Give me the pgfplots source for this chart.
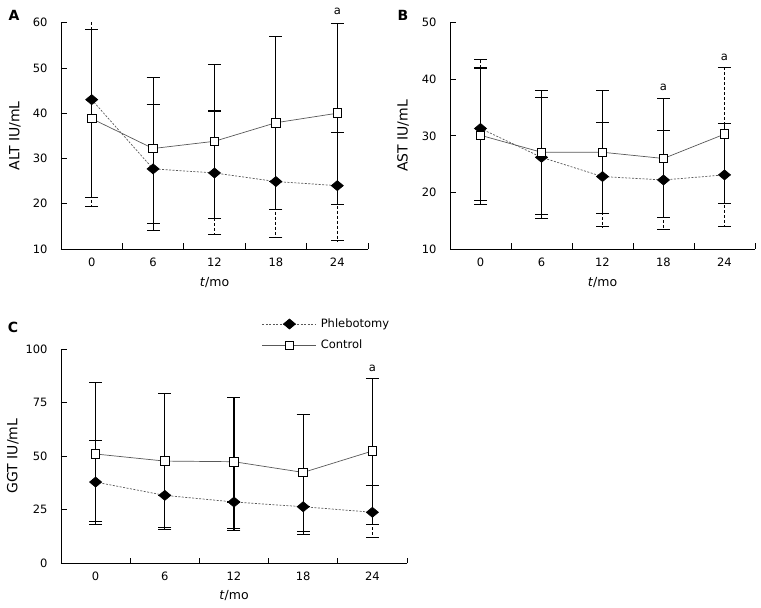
\documentclass[border=0pt]{standalone}
\usepackage{fontspec}
\setmainfont{DejaVu Sans}
\usepackage{pgfplots}
\pgfplotsset{compat=1.18}
\newcommand{\fs}{\fontsize{11.5pt}{13.5pt}\selectfont}
\newcommand{\fl}{\fontsize{14pt}{16pt}\selectfont}
\newcommand{\fx}{\fontsize{12.5pt}{15pt}\selectfont}
\pgfplotsset{
  panel/.style={
    scale only axis, anchor=south west,
    xmin=0, xmax=5,
    axis x line*=bottom, axis y line*=left,
    axis line style={black, line width=0.9pt},
    tick align=inside,
    xtick={0.5,1.5,2.5,3.5,4.5}, xticklabels={0,6,12,18,24},
    major x tick style={draw=none},
    minor xtick={1,2,3,4,5},
    minor tick length=5.7pt, major tick length=5.7pt,
    every tick/.style={black, line width=0.9pt},
    /pgf/number format/assume math mode=true,
    tick label style={font=\fs},
    xticklabel style={yshift=-5pt},
    yticklabel style={xshift=-10pt},
    ylabel style={font=\fl},
    xlabel style={font=\fx, at={(axis description cs:0.5,-0.15)}, anchor=center},
    xlabel={\textit{t}/mo},
    clip mode=individual,
  },
  phleb/.style={
    color=black!65, line width=0.7pt, dash pattern=on 2pt off 1.5pt,
    mark=diamond*, mark options={fill=black, draw=black, solid, mark size=5pt, xscale=1.6},
    error bars/.cd, y dir=both, y explicit,
    error bar style={black, line width=1.1pt, dash pattern=on 3pt off 2pt},
    error mark options={rotate=90, solid, black, line width=1.1pt, mark size=6.5pt},
  },
  control/.style={
    color=black!65, line width=0.7pt, solid,
    mark=square*, mark options={fill=white, draw=black, solid, line width=0.9pt, mark size=4.3pt},
    error bars/.cd, y dir=both, y explicit,
    error bar style={black, line width=1.1pt, solid},
    error mark options={rotate=90, solid, black, line width=1.1pt, mark size=6.5pt},
  },
}
\begin{document}
\begin{tikzpicture}
\useasboundingbox (0,0) rectangle (761pt,608pt);
\node[font=\fontsize{14pt}{16pt}\selectfont\bfseries] at (14pt,593pt) {A};
\node[font=\fontsize{14pt}{16pt}\selectfont\bfseries] at (403pt,593pt) {B};
\node[font=\fontsize{14pt}{16pt}\selectfont\bfseries] at (13pt,280.5pt) {C};
% Panel A
\begin{axis}[panel, at={(61pt,359pt)}, width=307pt, height=226.3pt,
  ymin=10, ymax=60, ytick={10,20,30,40,50,60},
  ylabel={ALT IU/mL},
  ylabel style={at={(axis description cs:-0.150,0.5)}, anchor=center}]
\addplot[phleb] coordinates {
  (0.5,43.0) += (0,21.6) -= (0,23.6)
  (1.5,27.7) += (0,14.3) -= (0,12.0)
  (2.5,26.8) += (0,13.7) -= (0,13.5)
  (3.5,24.9) += (0,0) -= (0,12.4)
  (4.5,24.0) += (0,11.8) -= (0,12.2)
};
\addplot[control] coordinates {
  (0.5,38.8) += (0,19.7) -= (0,17.4)
  (1.5,32.2) += (0,15.7) -= (0,18.2)
  (2.5,33.8) += (0,17.0) -= (0,17.0)
  (3.5,37.9) += (0,19.1) -= (0,19.1)
  (4.5,40.0) += (0,19.9) -= (0,20.1)
};
\node[font=\fs] at (axis cs:4.5,62.6) {a};
\end{axis}
% Panel B
\begin{axis}[panel, at={(450pt,359pt)}, width=305pt, height=226.3pt,
  ymin=10, ymax=50, ytick={10,20,30,40,50},
  ylabel={AST IU/mL},
  ylabel style={at={(axis description cs:-0.154,0.5)}, anchor=center}]
\addplot[phleb] coordinates {
  (0.5,31.3) += (0,12.2) -= (0,12.8)
  (1.5,26.2) += (0,10.5) -= (0,10.1)
  (2.5,22.8) += (0,9.6) -= (0,8.9)
  (3.5,22.2) += (0,8.8) -= (0,8.8)
  (4.5,23.1) += (0,19.0) -= (0,9.2)
};
\addplot[control] coordinates {
  (0.5,30.1) += (0,11.9) -= (0,12.2)
  (1.5,27.1) += (0,10.9) -= (0,11.7)
  (2.5,27.1) += (0,10.9) -= (0,10.8)
  (3.5,26.0) += (0,10.6) -= (0,10.4)
  (4.5,30.3) += (0,1.9) -= (0,12.3)
};
\node[font=\fs] at (axis cs:3.5,38.5) {a};
\node[font=\fs] at (axis cs:4.5,43.8) {a};
\end{axis}
% Panel C
\begin{axis}[panel, at={(61pt,44.7pt)}, width=346pt, height=214.3pt,
  ymin=0, ymax=100, ytick={0,25,50,75,100},
  ylabel={GGT IU/mL},
  ylabel style={at={(axis description cs:-0.139,0.5)}, anchor=center},
  legend style={at={(axis description cs:0.572,1.16)}, anchor=north west,
    draw=none, fill=none, font=\fs, row sep=7pt,
    nodes={inner sep=2pt}},
  legend cell align=left,
  legend image code/.code={\draw[mark repeat=2,mark phase=2,#1] plot coordinates {(0pt,0pt) (27pt,0pt) (54pt,0pt)};}]
\addplot[phleb] coordinates {
  (0.5,37.9) += (0,19.6) -= (0,18.6)
  (1.5,31.7) += (0,0) -= (0,15.1)
  (2.5,28.6) += (0,0) -= (0,12.4)
  (3.5,26.4) += (0,0) -= (0,11.6)
  (4.5,23.8) += (0,12.4) -= (0,11.7)
};
\addlegendentry{\hspace{2pt}Phlebotomy}
\addplot[control] coordinates {
  (0.5,51.0) += (0,33.4) -= (0,33.1)
  (1.5,47.7) += (0,31.6) -= (0,31.8)
  (2.5,47.4) += (0,29.9) -= (0,32.3)
  (3.5,42.4) += (0,27.1) -= (0,28.9)
  (4.5,52.4) += (0,33.7) -= (0,34.2)
};
\addlegendentry{\hspace{2pt}Control}
\node[font=\fs] at (axis cs:4.5,91) {a};
\end{axis}
\end{tikzpicture}
\end{document}
